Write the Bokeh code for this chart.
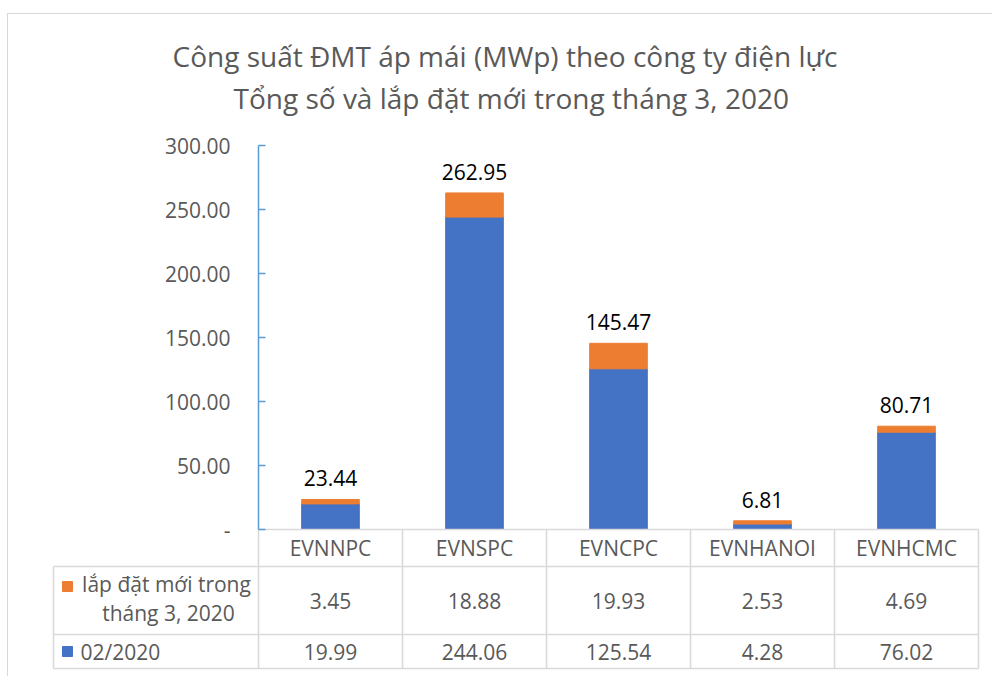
from bokeh.plotting import figure
from bokeh.models import (Range1d, FixedTicker, NumeralTickFormatter, Title,
                          ColumnDataSource, Column)
from bokeh.embed import file_html
from bokeh.resources import INLINE
from bokeh.core.properties import value

# ---------------- data ----------------
categories = ["EVNNPC", "EVNSPC", "EVNCPC", "EVNHANOI", "EVNHCMC"]
feb_2020 = [19.99, 244.06, 125.54, 4.28, 76.02]
new_march_2020 = [3.45, 18.88, 19.93, 2.53, 4.69]
totals = [23.44, 262.95, 145.47, 6.81, 80.71]
y_ticks = [0, 50, 100, 150, 200, 250, 300]
series_new_label = ["lắp đặt mới trong", "tháng 3, 2020"]
series_feb_label = "02/2020"
title_lines = ["Công suất ĐMT áp mái (MWp) theo công ty điện lực",
               "Tổng số và lắp đặt mới trong tháng 3, 2020"]

# ---------------- styles / geometry ----------------
BLUE = "#4472C4"
ORANGE = "#ED7D31"
TXT = "#595959"
LINE = "#D9D9D9"
AXIS_BLUE = "#5B9BD5"
FONT = "Open Sans"
FS = "21px"

COL_PX = 144.0          # width of one category column
LEG_PX = 205.0          # width of the legend column of the data table
CHART_PX = 384.0        # pixels for 0..300
Y_MAX = 300.0
PX_PER_UNIT = CHART_PX / Y_MAX
TOP_PAD_PX = 8.0
TABLE_PX = 141.0
ROWS = [0, 37, 105, 139]  # table row boundaries (px below the value axis)

n = len(categories)
fmt = lambda v: f"{v:.2f}"
xs = [i + 0.5 for i in range(n)]

src = ColumnDataSource(dict(x=xs, cat=categories, feb=feb_2020, new=new_march_2020,
                            total=totals, total_lbl=[fmt(t) for t in totals]))

x_start = -(LEG_PX + 2) / COL_PX
x_end = n + 2 / COL_PX
frame_w = (x_end - x_start) * COL_PX
y_top = Y_MAX + TOP_PAD_PX / PX_PER_UNIT
y_bot = -TABLE_PX / PX_PER_UNIT
frame_h = (y_top - y_bot) * PX_PER_UNIT

MB_L, MB_R, MB_T, MB_B = 43, 12, 123, 6
p = figure(x_range=Range1d(x_start, x_end), y_range=Range1d(y_bot, y_top),
           width=int(round(MB_L + frame_w + MB_R)), height=int(round(MB_T + frame_h + MB_B)),
           output_backend="svg", toolbar_location=None, x_axis_location=None,
           min_border_left=MB_L, min_border_right=MB_R, min_border_top=MB_T,
           min_border_bottom=MB_B)
p.outline_line_color = None
p.xgrid.visible = False
p.ygrid.visible = False

p.extra_y_ranges = {"tbl": Range1d(TABLE_PX, -TOP_PAD_PX - CHART_PX)}

# bars
p.vbar_stack(["feb", "new"], x="x", width=0.4, color=[BLUE, ORANGE], source=src)
p.text(x="x", y="total", text="total_lbl", source=src, text_align="center",
       text_baseline="middle", y_offset=-21, text_font=value(FONT),
       text_font_size=FS, text_color="#000000")

# value axis, placed at the left edge of the first category column
ax = p.yaxis[0]
ax.fixed_location = 0
ax.bounds = (0, Y_MAX)
ax.ticker = FixedTicker(ticks=y_ticks)
ax.formatter = NumeralTickFormatter(format="0.00")
ax.major_label_overrides = {0: "-"}
ax.axis_line_color = AXIS_BLUE
ax.axis_line_width = 1.5
ax.major_tick_line_color = AXIS_BLUE
ax.major_tick_line_width = 1.5
ax.major_tick_in = 7
ax.major_tick_out = 0
ax.minor_tick_line_color = None
ax.major_label_standoff = 28
ax.major_label_text_font = FONT
ax.major_label_text_font_size = FS
ax.major_label_text_color = TXT

# titles: blank spacer nearest the plot, then second line, then first line
p.add_layout(Title(text=" ", text_font_size="2px", text_color="#FFFFFF",
                   standoff=16), "above")
p.add_layout(Title(text=title_lines[1], align="left", offset=182, text_font=FONT,
                   text_font_size="28px", text_font_style="normal",
                   text_color=TXT, standoff=2), "above")
p.add_layout(Title(text=title_lines[0], align="left", offset=121, text_font=FONT,
                   text_font_size="28px", text_font_style="normal",
                   text_color=TXT, standoff=2), "above")

# ---------------- data table ----------------
hx0 = [0.0] + [-LEG_PX / COL_PX] * (len(ROWS) - 1)
hx1 = [float(n)] * len(ROWS)
p.segment(x0=hx0, y0=ROWS, x1=hx1, y1=ROWS, line_color=LINE, line_width=1.6,
          y_range_name="tbl")
vx = [float(k) for k in range(n + 1)] + [-LEG_PX / COL_PX]
vy0 = [ROWS[0]] * (n + 1) + [ROWS[1]]
vy1 = [ROWS[-1]] * (n + 2)
p.segment(x0=vx, y0=vy0, x1=vx, y1=vy1, line_color=LINE, line_width=1.6,
          y_range_name="tbl")

mid = [(ROWS[k] + ROWS[k + 1]) / 2 for k in range(len(ROWS) - 1)]
tkw = dict(text_align="center", text_baseline="middle", text_font=value(FONT),
           text_font_size=FS, text_color=TXT, y_range_name="tbl")
p.text(x=xs, y=[mid[0]] * n, text=categories, **tkw)
p.text(x=xs, y=[mid[1]] * n, text=[fmt(v) for v in new_march_2020], **tkw)
p.text(x=xs, y=[mid[2]] * n, text=[fmt(v) for v in feb_2020], **tkw)

# legend keys inside the table
key_x = -(LEG_PX - 14) / COL_PX
p.rect(x=[key_x] * 2, y=[mid[1] - 14, mid[2]], width=10 / COL_PX, height=10,
       color=[ORANGE, BLUE], y_range_name="tbl")
p.text(x=[-92 / COL_PX, -90 / COL_PX], y=[mid[1] - 17, mid[1] + 12],
       text=series_new_label, **tkw)
p.text(x=[-178 / COL_PX], y=[mid[2]], text=[series_feb_label],
       text_align="left", text_baseline="middle", text_font=value(FONT),
       text_font_size=FS, text_color=TXT, y_range_name="tbl")

layout = Column(children=[p], margin=(13, 0, 0, 7),
                styles={"border-left": "1px solid #D9D9D9",
                        "border-top": "1px solid #D9D9D9"})

open("out.html", "w").write(file_html(layout, INLINE))
